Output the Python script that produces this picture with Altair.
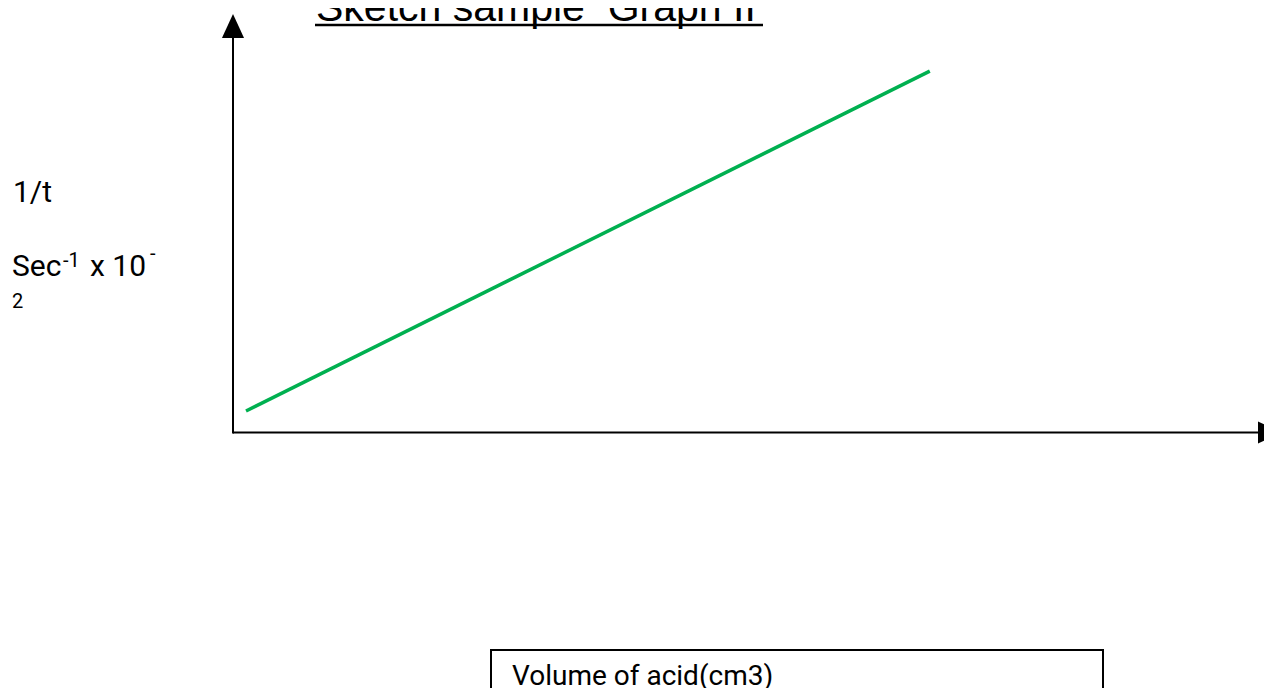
import altair as alt
import pandas as pd

# ---- data ----
volume = [1.0, 53.6]        # x values of the sketched straight line
inv_time = [1.0, 16.45]     # y values of the sketched straight line

title_text = "Sketch sample \u00a0Graph II"
y_label_1 = "1/t"
y_label_2 = "Sec"
y_sup_1 = "-1"
y_label_3 = "x 10"
y_sup_2 = "-"
y_label_4 = "2"
x_label = "Volume of acid(cm3)"

# ---- layout constants (svg pixel coords) ----
W, H = 1256, 680
OX, OY = 225, 425          # axis origin in svg pixels
PPX, PPY = 13.0, 22.0      # pixels per data unit

line_df = pd.DataFrame({"volume": volume, "inv_time": inv_time})

xscale = alt.Scale(domain=[(0 - OX) / PPX, (W - OX) / PPX], zero=False, nice=False)
yscale = alt.Scale(domain=[(OY - H) / PPY, OY / PPY], zero=False, nice=False)

one = pd.DataFrame({"k": [0]})

line = alt.Chart(line_df).mark_line(color="#00B050", strokeWidth=3.5).encode(
    x=alt.X("volume:Q", scale=xscale, axis=None),
    y=alt.Y("inv_time:Q", scale=yscale, axis=None),
)

def rule(x, y, x2=None, y2=None, w=2):
    enc = dict(x=alt.value(x), y=alt.value(y))
    if x2 is not None:
        enc["x2"] = alt.value(x2)
    if y2 is not None:
        enc["y2"] = alt.value(y2)
    return alt.Chart(one).mark_rule(color="black", strokeWidth=w).encode(**enc)

def txt(t, x, y, size, font="Roboto"):
    return alt.Chart(one).mark_text(
        text=t, font=font, fontSize=size, align="left", baseline="alphabetic", color="black"
    ).encode(x=alt.value(x), y=alt.value(y))

def arrow(shape, x, y, size):
    return alt.Chart(one).mark_point(
        shape=shape, filled=True, fill="black", color="black", opacity=1, size=size, strokeWidth=0
    ).encode(x=alt.value(x), y=alt.value(y))

y_axis = rule(OX, 30, y2=OY + 0.5)
x_axis = rule(OX, OY - 0.5, x2=1250)
up_arrow = arrow("M0,-1L0.92,1L-0.92,1Z", OX, 18, 576)
right_arrow = arrow("M1,0L-1,-0.92L-1,0.92Z", 1262, OY - 0.5, 576)

title = txt(title_text, 308, 13, 41, font="Liberation Sans")
underline = rule(307, 17, x2=755, w=2.5)

lab1 = txt(y_label_1, 5, 194, 30)
lab2 = txt(y_label_2, 4, 268, 30)
sup1 = txt(y_sup_1, 55, 259, 20)
lab3 = txt(y_label_3, 82, 268, 30)
sup2 = txt(y_sup_2, 142, 252, 20)
lab4 = txt(y_label_4, 4, 300, 20)

box = alt.Chart(one).mark_rect(
    fill="white", fillOpacity=0, stroke="black", strokeWidth=2
).encode(x=alt.value(483), x2=alt.value(1095), y=alt.value(642), y2=alt.value(720))
box_text = txt(x_label, 504, 677, 28)

chart = alt.layer(
    y_axis, x_axis, up_arrow, right_arrow, line,
    title, underline, lab1, lab2, sup1, lab3, sup2, lab4, box, box_text
).properties(
    width=W, height=H, padding=0, autosize=alt.AutoSizeParams(type="none")
).configure_view(strokeWidth=0, strokeOpacity=0, fill="white", fillOpacity=0)

chart.save("out.html", embed_options={"renderer": "svg", "actions": False})
